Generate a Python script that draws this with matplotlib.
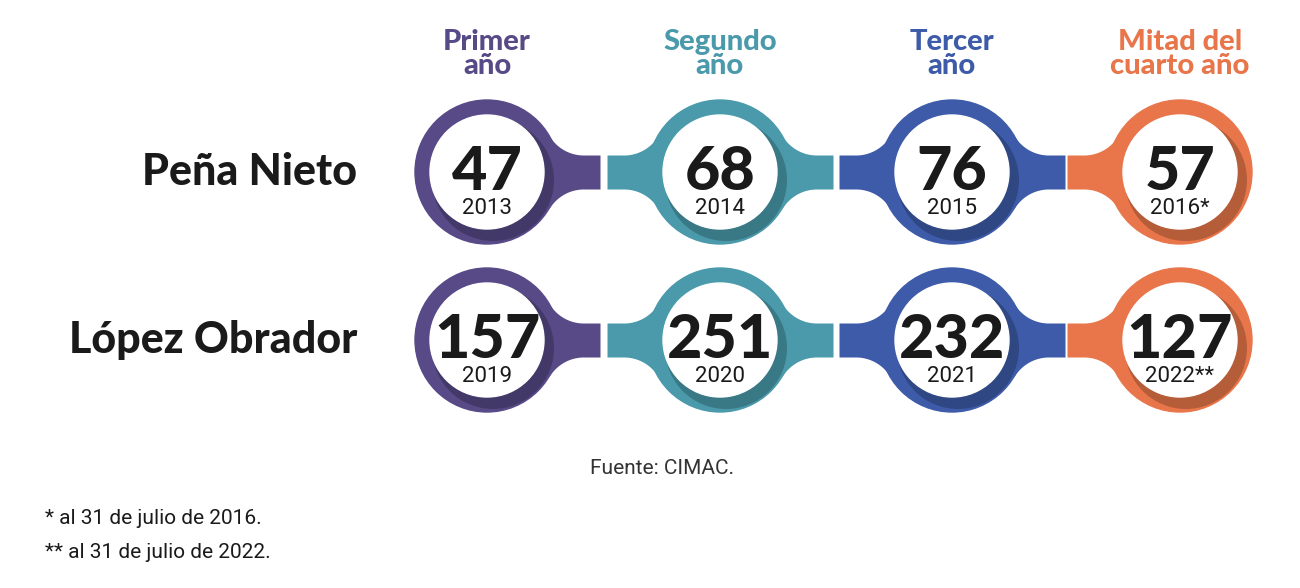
import numpy as np
import matplotlib.pyplot as plt
from matplotlib.patches import Circle

headers = ["Primer\naño", "Segundo\naño", "Tercer\naño", "Mitad del\ncuarto año"]
colors = ["#574a87", "#4a9aab", "#3d5ba8", "#e8764a"]
rows = ["Peña Nieto", "López Obrador"]
values = [[47, 68, 76, 57], [157, 251, 232, 127]]
years = [["2013", "2014", "2015", "2016*"], ["2019", "2020", "2021", "2022**"]]
source = "Fuente: CIMAC."
notes = ["* al 31 de julio de 2016.", "** al 31 de julio de 2022."]

col_x = [487, 720, 952, 1180]
row_y = [172, 340]
R, r_in, h, rf, tail = 72, 57, 17, 40, 113

fig = plt.figure(figsize=(13, 5.88), dpi=100)
ax = fig.add_axes([0, 0, 1, 1])
ax.set_xlim(0, 1300)
ax.set_ylim(588, 0)
ax.axis("off")


def draw_tail(cx, cy, direction, color):
    xf = np.sqrt((R + rf) ** 2 - (h + rf) ** 2)
    xt = xf * R / (R + rf)
    d = np.linspace(xt, tail, 200)
    top = np.where(d < xf, cy - h - rf + np.sqrt(np.clip(rf ** 2 - (d - xf) ** 2, 0, None)), cy - h)
    bot = 2 * cy - top
    ax.fill_between(cx + direction * d, top, bot, color=color, lw=0, zorder=2)


for i, cy in enumerate(row_y):
    for j, cx in enumerate(col_x):
        c = colors[j]
        if j < 3:
            draw_tail(cx, cy, 1, c)
        if j > 0:
            draw_tail(cx, cy, -1, c)
        outer = Circle((cx, cy), R, color=c, zorder=3)
        ax.add_patch(outer)
        # subtle shadow of the white disc on the ring
        sh = Circle((cx + 6, cy + 8), r_in + 4, color="black", alpha=0.22, zorder=4, lw=0)
        ax.add_patch(sh)
        sh.set_clip_path(outer)
        ax.add_patch(Circle((cx, cy), r_in, color="white", zorder=5))
        ax.text(cx, cy + 18, str(values[i][j]), ha="center", va="baseline", fontsize=44,
                fontfamily="Lato", fontweight="heavy", color="#1a1a1a", zorder=6)
        ax.text(cx, cy + 42, years[i][j], ha="center", va="baseline", fontsize=16,
                fontfamily="Roboto", color="#1a1a1a", zorder=6)
    ax.text(357, cy, rows[i], ha="right", va="center", fontsize=31,
            fontfamily="Lato", fontweight="heavy", color="#1a1a1a")

for j, cx in enumerate(col_x):
    ax.text(cx, 54, headers[j], ha="center", va="center", fontsize=21, linespacing=0.95,
            fontfamily="Lato", fontweight="heavy", color=colors[j])

ax.text(662, 468, source, ha="center", va="center", fontsize=15, fontfamily="Roboto", color="#333333")
ax.text(45, 519, notes[0], ha="left", va="center", fontsize=15, fontfamily="Roboto", color="#1a1a1a")
ax.text(45, 552, notes[1], ha="left", va="center", fontsize=15, fontfamily="Roboto", color="#1a1a1a")

fig.savefig("out.png", dpi=100)
